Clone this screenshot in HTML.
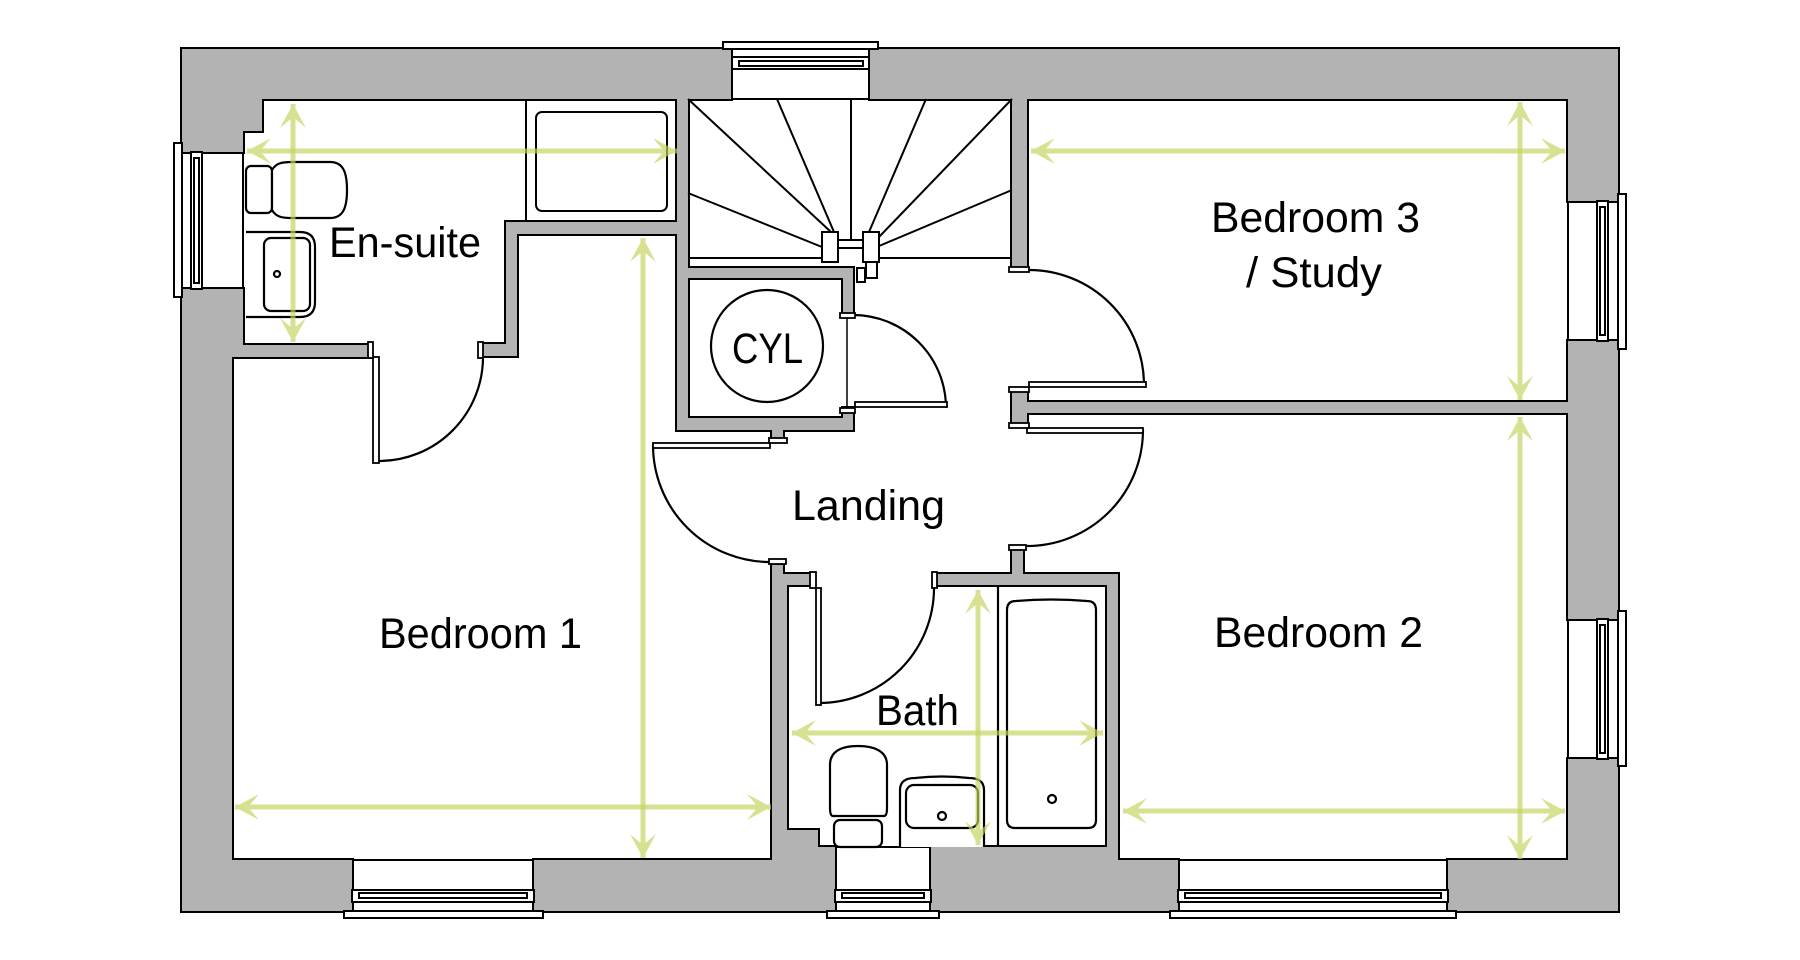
<!DOCTYPE html>
<html><head><meta charset="utf-8"><style>
html,body{margin:0;padding:0;background:#fff;}
svg{display:block;}
text{font-family:"Liberation Sans",Arial,sans-serif;font-size:43px;fill:#000;}
</style></head><body>
<svg width="1800" height="960" viewBox="0 0 1800 960" xmlns="http://www.w3.org/2000/svg">
<rect width="1800" height="960" fill="#fff"/>
<defs>
<g id="w">
<polygon points="182,49 731,49 731,99 262,99 262,131 243,131 243,152 182,152"/>
<polygon points="870,49 1618,49 1618,201 1568,201 1568,99 870,99"/>
<polygon points="1568,341 1618,341 1618,619 1568,619"/>
<polygon points="1568,759 1618,759 1618,911 1448,911 1448,860 1568,860"/>
<polygon points="182,289 243,289 243,357 232,357 232,860 352,860 352,911 182,911"/>
<polygon points="534,860 772,860 772,830 818,830 818,847 835,847 835,911 534,911"/>
<polygon points="931,847 1118,847 1118,860 1178,860 1178,911 931,911"/>
<polygon points="772,565 783,565 783,574 812,574 812,585 787,585 787,860 772,860"/>
<polygon points="937,574 1012,574 1012,550 1023,550 1023,574 1118,574 1118,860 1107,860 1107,585 937,585"/>
<polygon points="232,345 370,345 370,357 232,357"/>
<polygon points="480,344 506,344 506,222 677,222 677,234 517,234 517,356 480,356"/>
<polygon points="677,99 688,99 688,268 853,268 853,313 843,313 843,278 688,278 688,418 843,418 843,408 853,408 853,430 677,430"/>
<polygon points="772,430 783,430 783,438 772,438"/>
<polygon points="1012,99 1027,99 1027,267 1012,267"/>
<polygon points="1012,392 1027,392 1027,402 1568,402 1568,413 1027,413 1027,423 1012,423"/>
</g>
</defs>
<use href="#w" fill="#000" stroke="#000" stroke-width="4" stroke-linejoin="miter"/>
<use href="#w" fill="#b3b3b3"/>

<g fill="none" stroke="#000" stroke-width="2">
<line x1="731" y1="99" x2="870" y2="99"/>
<line x1="243" y1="152" x2="243" y2="289"/>
<line x1="1568" y1="201" x2="1568" y2="341"/>
<line x1="1568" y1="619" x2="1568" y2="759"/>
<line x1="352" y1="860" x2="534" y2="860"/>
<line x1="835" y1="847" x2="931" y2="847"/>
<line x1="1178" y1="860" x2="1448" y2="860"/>
</g>

<g fill="#fff" stroke="#000" stroke-width="2">
<rect x="723" y="42" width="155" height="7"/>
<rect x="732" y="57" width="137" height="12"/>
<rect x="739" y="61" width="124" height="5"/>

<rect x="174" y="143" width="8" height="154"/>
<rect x="191" y="152" width="11" height="137"/>
<rect x="194" y="158" width="5" height="125"/>

<rect x="1618" y="194" width="8" height="155"/>
<rect x="1597" y="201" width="11" height="140"/>
<rect x="1600" y="207" width="5" height="128"/>

<rect x="1618" y="611" width="8" height="155"/>
<rect x="1597" y="619" width="11" height="140"/>
<rect x="1600" y="625" width="5" height="128"/>

<rect x="344" y="911" width="199" height="7"/>
<rect x="352" y="890" width="182" height="12"/>
<rect x="359" y="893" width="168" height="5"/>

<rect x="827" y="911" width="112" height="7"/>
<rect x="835" y="890" width="96" height="12"/>
<rect x="842" y="893" width="82" height="5"/>

<rect x="1170" y="911" width="286" height="7"/>
<rect x="1178" y="890" width="270" height="12"/>
<rect x="1185" y="893" width="256" height="5"/>
</g>

<g fill="none" stroke="#000" stroke-width="2">
<line x1="688" y1="258" x2="822" y2="258"/>
<line x1="879" y1="258" x2="1012" y2="258"/>
<line x1="851" y1="99" x2="851" y2="240"/>
<line x1="688" y1="99" x2="831" y2="232"/>
<line x1="777" y1="99" x2="834" y2="232"/>
<line x1="688" y1="193" x2="822" y2="247"/>
<line x1="926" y1="99" x2="869" y2="232"/>
<line x1="1012" y1="99" x2="879" y2="237"/>
<line x1="1012" y1="190" x2="879" y2="246"/>
</g>
<g fill="#fff" stroke="#000" stroke-width="2">
<rect x="838" y="240" width="25" height="8"/>
<rect x="822" y="232" width="16" height="30"/>
<rect x="863" y="232" width="16" height="30"/>
<rect x="866" y="262" width="11" height="16"/>
<rect x="857" y="268" width="8" height="14"/>
</g>

<g fill="none" stroke="#000" stroke-width="2">
<line x1="526" y1="99" x2="526" y2="222"/>
<rect x="536" y="112" width="131" height="99" rx="6"/>
</g>

<g fill="#fff" stroke="#000" stroke-width="2.2">
<rect x="246" y="166" width="26" height="47" rx="5"/>
<path d="M272,170 C276,163 282,162 292,162 L330,162 C343,162 347,172 347,190 C347,208 343,218 330,218 L292,218 C282,218 276,217 272,210 Z"/>
<path d="M246,232 L300,232 Q315,232 315,247 L315,302 Q315,317 300,317 L246,317"/>
<rect x="264" y="238" width="46" height="73" rx="7"/>
<circle cx="277" cy="274" r="3"/>
</g>

<g fill="#fff" stroke="#000" stroke-width="2.2">
<line x1="998" y1="585" x2="998" y2="847"/>
<path d="M1007,610 Q1007,601 1016,601 Q1051,598 1087,601 Q1096,601 1096,610 L1096,820 Q1096,828 1088,828 L1015,828 Q1007,828 1007,820 Z"/>
<circle cx="1052" cy="799" r="4"/>
<rect x="834" y="820" width="48" height="27" rx="6"/>
<path d="M833,816 Q830,816 830,808 L830,765 C830,751 842,746 858,746 C874,746 887,751 887,765 L887,808 Q887,816 884,816 Z"/>
<path d="M900,847 L900,790 Q900,778 915,778 Q942,775 969,778 Q984,778 984,790 L984,847"/>
<rect x="906" y="785" width="72" height="43" rx="8"/>
<circle cx="942" cy="816" r="4"/>
</g>

<circle cx="767" cy="346" r="56" fill="none" stroke="#000" stroke-width="2.2"/>
<line x1="847" y1="318" x2="847" y2="408" stroke="#000" stroke-width="1.5"/>

<g fill="none" stroke="#000" stroke-width="2.2">
<path d="M379,461 A104,104 0 0 0 483,357"/>
<path d="M853,315 A93,93 0 0 1 946,408"/>
<path d="M1029,270 A115,115 0 0 1 1144,385"/>
<path d="M1143,430 A116,116 0 0 1 1027,546"/>
<path d="M653,445 A117,117 0 0 0 770,562"/>
<path d="M819,703 A115,115 0 0 0 934,588"/>
</g>
<g fill="#fff" stroke="#000" stroke-width="1.8">
<rect x="373" y="357" width="6" height="106"/>
<rect x="855" y="402" width="92" height="5"/>
<rect x="1029" y="382" width="117" height="5"/>
<rect x="1027" y="428" width="116" height="5"/>
<rect x="653" y="443" width="117" height="5"/>
<rect x="816" y="588" width="5" height="117"/>

<rect x="368" y="342" width="5" height="16"/>
<rect x="478" y="342" width="5" height="16"/>
<rect x="840" y="313" width="15" height="5"/>
<rect x="840" y="408" width="15" height="5"/>
<rect x="1009" y="267" width="20" height="5"/>
<rect x="1009" y="387" width="20" height="5"/>
<rect x="1009" y="423" width="20" height="5"/>
<rect x="1009" y="545" width="17" height="5"/>
<rect x="769" y="438" width="18" height="5"/>
<rect x="769" y="559" width="17" height="5"/>
<rect x="810" y="572" width="6" height="16"/>
<rect x="932" y="572" width="5" height="16"/>
</g>

<defs>
<marker id="ah" markerUnits="userSpaceOnUse" markerWidth="30" markerHeight="30" viewBox="-26 -15 28 30" refX="0" refY="0" orient="auto-start-reverse">
<polygon points="0,0 -24,-13 -13,0 -24,13" fill="#c7d35f"/>
</marker>
</defs>
<g stroke="#c7d35f" stroke-width="5" fill="none">
<g opacity="0.68"><line x1="247" y1="151" x2="677" y2="151" marker-start="url(#ah)" marker-end="url(#ah)"/></g>
<g opacity="0.68"><line x1="293" y1="104" x2="293" y2="342" marker-start="url(#ah)" marker-end="url(#ah)"/></g>
<g opacity="0.68"><line x1="643" y1="238" x2="643" y2="858" marker-start="url(#ah)" marker-end="url(#ah)"/></g>
<g opacity="0.68"><line x1="235" y1="807" x2="771" y2="807" marker-start="url(#ah)" marker-end="url(#ah)"/></g>
<g opacity="0.68"><line x1="1031" y1="151" x2="1565" y2="151" marker-start="url(#ah)" marker-end="url(#ah)"/></g>
<g opacity="0.68"><line x1="1520" y1="102" x2="1520" y2="400" marker-start="url(#ah)" marker-end="url(#ah)"/></g>
<g opacity="0.68"><line x1="1520" y1="417" x2="1520" y2="859" marker-start="url(#ah)" marker-end="url(#ah)"/></g>
<g opacity="0.68"><line x1="1123" y1="811" x2="1565" y2="811" marker-start="url(#ah)" marker-end="url(#ah)"/></g>
<g opacity="0.68"><line x1="792" y1="733" x2="1103" y2="733" marker-start="url(#ah)" marker-end="url(#ah)"/></g>
<g opacity="0.68"><line x1="978" y1="590" x2="978" y2="845" marker-start="url(#ah)" marker-end="url(#ah)"/></g>
</g>

<text x="329" y="257" textLength="152" lengthAdjust="spacingAndGlyphs">En-suite</text>
<text x="1211" y="232" textLength="209" lengthAdjust="spacingAndGlyphs">Bedroom 3</text>
<text x="1246" y="287" textLength="136" lengthAdjust="spacingAndGlyphs">/ Study</text>
<text x="732" y="363" textLength="71" lengthAdjust="spacingAndGlyphs">CYL</text>
<text x="792" y="520" textLength="153" lengthAdjust="spacingAndGlyphs">Landing</text>
<text x="379" y="648" textLength="203" lengthAdjust="spacingAndGlyphs">Bedroom 1</text>
<text x="876" y="725" textLength="83" lengthAdjust="spacingAndGlyphs">Bath</text>
<text x="1214" y="647" textLength="209" lengthAdjust="spacingAndGlyphs">Bedroom 2</text>
</svg>
</body></html>
